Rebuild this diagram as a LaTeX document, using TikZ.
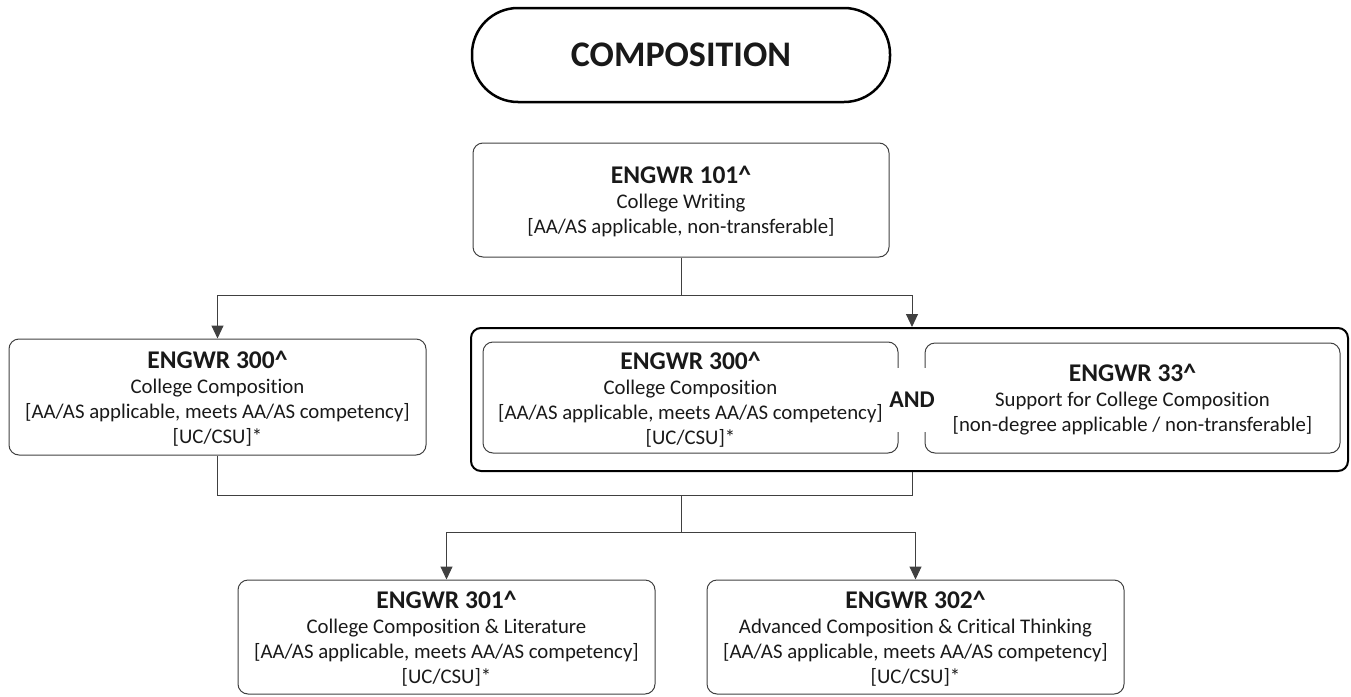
\documentclass[tikz,border=0pt]{standalone}
\usepackage{fontspec}
\setmainfont{Carlito}[Ligatures=NoCommon]
\usetikzlibrary{arrows.meta}
\newcommand{\hd}[1]{{\fontsize{25.5}{25}\selectfont\bfseries\rule{0pt}{21pt}#1}}
\tikzset{
  course/.style={draw=black!75, line width=1pt, rounded corners=10pt,
    minimum width=417pt, minimum height=114pt, align=center, text=black!90,
    font=\fontsize{20.8}{25}\selectfont, inner sep=0pt},
  conn/.style={draw=black!75, line width=1pt},
  arr/.style={conn, -{Triangle[width=12pt,length=13pt]}},
}
\begin{document}
\begin{tikzpicture}[x=1pt,y=-1pt]
\useasboundingbox (0,0) rectangle (1351,696);
% title
\node[draw=black, line width=2.5pt, rounded corners=46pt, minimum width=418pt,
  minimum height=94pt, inner sep=0pt, font=\fontsize{36}{40}\selectfont\bfseries,
  text=black!90] (comp) at (681,55) {COMPOSITION};
% ENGWR 101
\node[course, minimum width=416pt] (e101) at (681,200)
  {\hd{ENGWR 101\textasciicircum}\\College Writing\\{[AA/AS applicable, non-transferable]}};
% ENGWR 300 (alone)
\node[course, minimum height=116pt] (e300a) at (217.5,397)
  {\hd{ENGWR 300\textasciicircum}\\College Composition\\{[AA/AS applicable, meets AA/AS competency]}\\{[UC/CSU]*}};
% group box
\node[draw=black, line width=2pt, rounded corners=10pt, minimum width=877pt,
  minimum height=143pt, inner sep=0pt] (big) at (909.5,399.5) {};
\node[course, minimum width=415pt, minimum height=111pt] (e300b) at (690.5,397.5)
  {\hd{ENGWR 300\textasciicircum}\\College Composition\\{[AA/AS applicable, meets AA/AS competency]}\\{[UC/CSU]*}};
\node[course, minimum width=415pt, minimum height=110pt] (e33) at (1132.5,398)
  {\hd{ENGWR 33\textasciicircum}\\Support for College Composition\\{[non-degree applicable / non-transferable]}};
\node[fill=white, inner sep=0pt, minimum width=34pt, minimum height=64pt,
  font=\fontsize{24}{25}\selectfont\bfseries, text=black!90] (and) at (912,400) {AND};
% bottom row
\node[course] (e301) at (446.5,637)
  {\hd{ENGWR 301\textasciicircum}\\College Composition \& Literature\\{[AA/AS applicable, meets AA/AS competency]}\\{[UC/CSU]*}};
\node[course] (e302) at (915.5,637)
  {\hd{ENGWR 302\textasciicircum}\\Advanced Composition \& Critical Thinking\\{[AA/AS applicable, meets AA/AS competency]}\\{[UC/CSU]*}};
% connectors
\coordinate (s1) at (681,295);
\coordinate (s2) at (681,495);
\coordinate (s3) at (681,532);
\draw[conn] (e101.south) -- (s1);
\draw[arr] (s1) -| (e300a.north);
\draw[arr] (s1) -| ([xshift=2.5pt]big.north);
\draw[conn] (e300a.south) |- (s2);
\draw[conn] ([xshift=2.5pt]big.south) |- (s2);
\draw[conn] (s2) -- (s3);
\draw[arr] (s3) -| (e301.north);
\draw[arr] (s3) -| (e302.north);
\end{tikzpicture}
\end{document}
